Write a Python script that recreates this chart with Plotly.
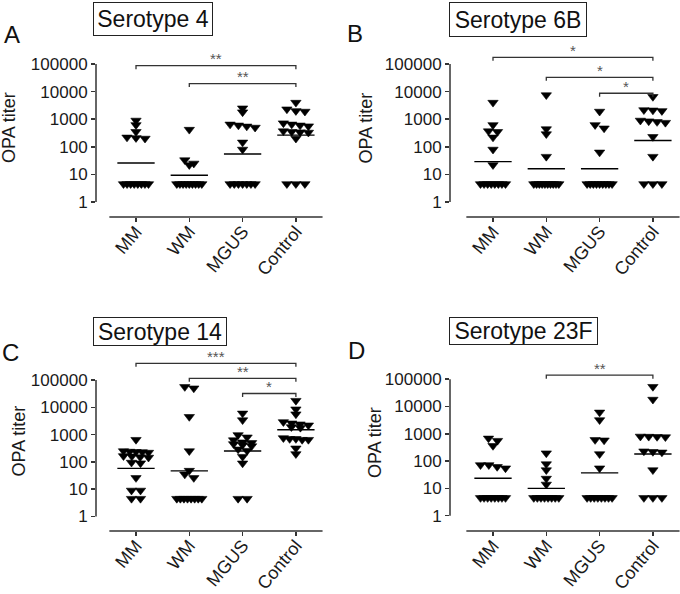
import math
import plotly.graph_objects as go

W, H = 680, 594
FONT = "Arial, 'Liberation Sans', Helvetica, sans-serif"

# ---------------- data ----------------
categories = ["MM", "WM", "MGUS", "Control"]
ytick_vals = [1, 10, 100, 1000, 10000, 100000]
ytick_text = ["1", "10", "100", "1000", "10000", "100000"]
panel_letters = ["A", "B", "C", "D"]
panel_titles = ["Serotype 4", "Serotype 6B", "Serotype 14", "Serotype 23F"]
y_title = "OPA titer"

# Serotype 4
s4_mm = [900, 620, 350, 210, 200, 220, 4.5, 4.5, 4.5, 4.5, 4.5, 4.5, 4.5, 4.5]
s4_wm = [420, 33, 25, 22, 4.5, 4.5, 4.5, 4.5, 4.5, 4.5, 4.5, 4.5, 4.5]
s4_mgus = [2500, 1800, 650, 600, 550, 500, 145, 80, 4.5, 4.5, 4.5, 4.5, 4.5, 4.5, 4.5]
s4_control = [4000, 2300, 2000, 1900, 720, 650, 600, 560, 370, 350, 340, 330, 200, 4.5, 4.5, 4.5]
s4_gmt = [26, 9.3, 55, 265]
s4_brackets = [(0, 3, 87000, "**"), (1, 3, 19500, "**")]

# Serotype 6B
s6b_mm = [4000, 620, 370, 350, 220, 80, 22, 4.5, 4.5, 4.5, 4.5, 4.5, 4.5, 4.5, 4.5]
s6b_wm = [7500, 440, 290, 44, 4.5, 4.5, 4.5, 4.5, 4.5, 4.5, 4.5, 4.5, 4.5, 4.5]
s6b_mgus = [1900, 620, 470, 63, 4.5, 4.5, 4.5, 4.5, 4.5, 4.5, 4.5, 4.5, 4.5]
s6b_control = [6500, 2150, 2100, 2000, 900, 850, 800, 750, 230, 44, 4.5, 4.5, 4.5]
s6b_gmt = [29, 16, 16, 170]
s6b_brackets = [(0, 3, 174000, "*"), (1, 3, 33000, "*"), (2, 3, 8700, "*")]

# Serotype 14
s14_mm = [650, 250, 240, 235, 230, 220, 165, 160, 150, 145, 95, 90, 26, 9, 9, 4.5, 4.5]
s14_wm = [56000, 50000, 4500, 250, 48, 35, 26, 4.5, 4.5, 4.5, 4.5, 4.5, 4.5, 4.5, 4.5]
s14_mgus = [6000, 3400, 970, 800, 630, 525, 500, 455, 420, 380, 290, 257, 155, 89, 4.5, 4.5]
s14_control = [17500, 8500, 5600, 2900, 2600, 2400, 2200, 1900, 1800, 750, 700, 700, 650, 650, 316, 195]
s14_gmt = [58, 47, 252, 1500]
s14_brackets = [(0, 3, 407000, "***"), (1, 3, 115000, "**"), (2, 3, 32000, "*")]

# Serotype 23F
s23f_mm = [680, 560, 365, 72, 72, 62, 55, 4.5, 4.5, 4.5, 4.5, 4.5, 4.5, 4.5, 4.5]
s23f_wm = [195, 78, 47, 23, 14, 4.5, 4.5, 4.5, 4.5, 4.5, 4.5, 4.5, 4.5]
s23f_mgus = [6100, 3200, 600, 580, 182, 55, 4.5, 4.5, 4.5, 4.5, 4.5, 4.5, 4.5, 4.5]
s23f_control = [53000, 18000, 800, 790, 780, 760, 230, 220, 210, 47, 4.5, 4.5, 4.5]
s23f_gmt = [23.5, 10, 37, 182]
s23f_brackets = [(1, 3, 141000, "**")]

panels = [
    dict(groups=[s4_mm, s4_wm, s4_mgus, s4_control], gmt=s4_gmt, brackets=s4_brackets),
    dict(groups=[s6b_mm, s6b_wm, s6b_mgus, s6b_control], gmt=s6b_gmt, brackets=s6b_brackets),
    dict(groups=[s14_mm, s14_wm, s14_mgus, s14_control], gmt=s14_gmt, brackets=s14_brackets),
    dict(groups=[s23f_mm, s23f_wm, s23f_mgus, s23f_control], gmt=s23f_gmt, brackets=s23f_brackets),
]

# ---------------- layout geometry (pixels) ----------------
SP = 53.3  # px per category
geom = [
    dict(ax=96, cat0=136, one=202, dec=27.6, bottom=217, top=42, right=324,
         title=(153, 19, 120, 34), letter=(11.5, 34.5), ytitle=(8.5, 127.5)),
    dict(ax=450, cat0=493, one=202, dec=27.6, bottom=217, top=42, right=680,
         title=(518, 19.5, 138, 35), letter=(355, 33.5), ytitle=(365.5, 128)),
    dict(ax=96, cat0=136, one=516.5, dec=27.3, bottom=531, top=350, right=324,
         title=(160, 331.5, 134, 29), letter=(10, 352.5), ytitle=(18.5, 441)),
    dict(ax=450, cat0=493, one=515.7, dec=27.3, bottom=531, top=350, right=680,
         title=(523.5, 331, 149, 28), letter=(356, 350.5), ytitle=(375, 443)),
]


def swarm_offsets(values, spacing_px=9.0, max_span_px=25.0, row_tol=0.13):
    logs = [math.log10(v) for v in values]
    order = sorted(range(len(values)), key=lambda i: -logs[i])
    rows = []
    for i in order:
        if rows and abs(logs[rows[-1][0]] - logs[i]) <= row_tol:
            rows[-1].append(i)
        else:
            rows.append([i])
    offs = [0.0] * len(values)
    for row in rows:
        n = len(row)
        if n == 1:
            continue
        step = min(spacing_px, max_span_px / (n - 1))
        for k, i in enumerate(row):
            offs[i] = (k - (n - 1) / 2) * step
    return offs


fig = go.Figure()
layout = dict(
    width=W, height=H, autosize=False,
    margin=dict(l=0, r=0, t=0, b=0),
    paper_bgcolor="white", plot_bgcolor="white",
    showlegend=False, hovermode=False,
    font=dict(family=FONT, color="#1a1a1a"),
)
shapes = []
annotations = []
AX_COL = "#333333"

for p, (pan, g) in enumerate(zip(panels, geom)):
    n = p + 1
    xs = "x" if n == 1 else f"x{n}"
    ys = "y" if n == 1 else f"y{n}"
    xkey = "xaxis" if n == 1 else f"xaxis{n}"
    ykey = "yaxis" if n == 1 else f"yaxis{n}"

    xr = [(g["ax"] - g["cat0"]) / SP, (g["right"] - g["cat0"]) / SP]
    yr = [(g["one"] - g["bottom"]) / g["dec"], (g["one"] - g["top"]) / g["dec"]]

    layout[xkey] = dict(
        domain=[g["ax"] / W, g["right"] / W], range=xr, anchor=ys,
        tickvals=list(range(len(categories))), ticktext=categories,
        tickangle=-50, ticks="outside", ticklen=4, tickwidth=1.5, tickcolor=AX_COL,
        ticklabelstandoff=-8, fixedrange=True,
        showline=False, showgrid=False, zeroline=False, automargin=False,
        tickfont=dict(size=18, family=FONT, color="#1a1a1a"),
    )
    layout[ykey] = dict(
        domain=[1 - g["bottom"] / H, 1 - g["top"] / H], range=yr, type="log", anchor=xs,
        tickvals=ytick_vals, ticktext=ytick_text, fixedrange=True,
        ticks="outside", ticklen=4, tickwidth=1.5, tickcolor=AX_COL,
        showline=False, showgrid=False, zeroline=False, automargin=False,
        tickfont=dict(size=17, family=FONT, color="#1a1a1a"),
    )

    # axis lines
    shapes.append(dict(type="line", xref=xs, yref=f"{ys} domain",
                       x0=-0.5, x1=len(categories) - 0.5, y0=0, y1=0,
                       line=dict(color=AX_COL, width=1.5)))
    f0 = (0 - yr[0]) / (yr[1] - yr[0])
    f1 = (5 - yr[0]) / (yr[1] - yr[0])
    shapes.append(dict(type="line", xref=f"{xs} domain", yref=f"{ys} domain",
                       x0=0, x1=0, y0=f0, y1=f1,
                       line=dict(color=AX_COL, width=1.5)))

    # points
    for gi, vals in enumerate(pan["groups"]):
        offs = swarm_offsets(vals)
        fig.add_trace(go.Scatter(
            x=[gi + o / SP for o in offs], y=vals, mode="markers",
            marker=dict(symbol="triangle-down", size=9, color="black",
                        line=dict(width=0.6, color="black")),
            xaxis=xs, yaxis=ys, hoverinfo="skip", cliponaxis=False,
        ))
        fig.add_trace(go.Scatter(
            x=[gi - 0.35, gi + 0.35], y=[pan["gmt"][gi]] * 2, mode="lines",
            line=dict(color="black", width=1.4), xaxis=xs, yaxis=ys, hoverinfo="skip",
        ))

    # significance brackets
    drop = 10 ** (-3.5 / g["dec"])
    for a, b, lvl, stars in pan["brackets"]:
        fig.add_trace(go.Scatter(
            x=[a, a, b, b], y=[lvl * drop, lvl, lvl, lvl * drop], mode="lines",
            line=dict(color=AX_COL, width=1.3), xaxis=xs, yaxis=ys, hoverinfo="skip",
        ))
        annotations.append(dict(
            x=(a + b) / 2, y=math.log10(lvl), xref=xs, yref=ys, text=stars,
            showarrow=False, yanchor="middle", yshift=7,
            font=dict(size=15, color="#555555", family=FONT),
        ))

    # title box
    tx, ty, tw, th = g["title"]
    annotations.append(dict(
        x=tx / W, y=1 - ty / H, xref="paper", yref="paper", text=panel_titles[p],
        showarrow=False, xanchor="center", yanchor="middle",
        width=tw - 2, height=th - 2, borderpad=0,
        bordercolor="#222222", borderwidth=1, bgcolor="white",
        font=dict(size=23, color="#111111", family=FONT),
    ))
    # panel letter
    lx, ly = g["letter"]
    annotations.append(dict(
        x=lx / W, y=1 - ly / H, xref="paper", yref="paper", text=panel_letters[p],
        showarrow=False, xanchor="center", yanchor="middle",
        font=dict(size=24, color="#111111", family=FONT),
    ))
    # y title
    yx, yy = g["ytitle"]
    annotations.append(dict(
        x=yx / W, y=1 - yy / H, xref="paper", yref="paper", text=y_title,
        showarrow=False, xanchor="center", yanchor="middle", textangle=-90,
        font=dict(size=18, color="#1a1a1a", family=FONT),
    ))

layout["shapes"] = shapes
layout["annotations"] = annotations
fig.update_layout(**layout)
fig.write_html("out.html", config={"displayModeBar": False, "staticPlot": True},
               post_script="document.body.style.margin='0px';")
